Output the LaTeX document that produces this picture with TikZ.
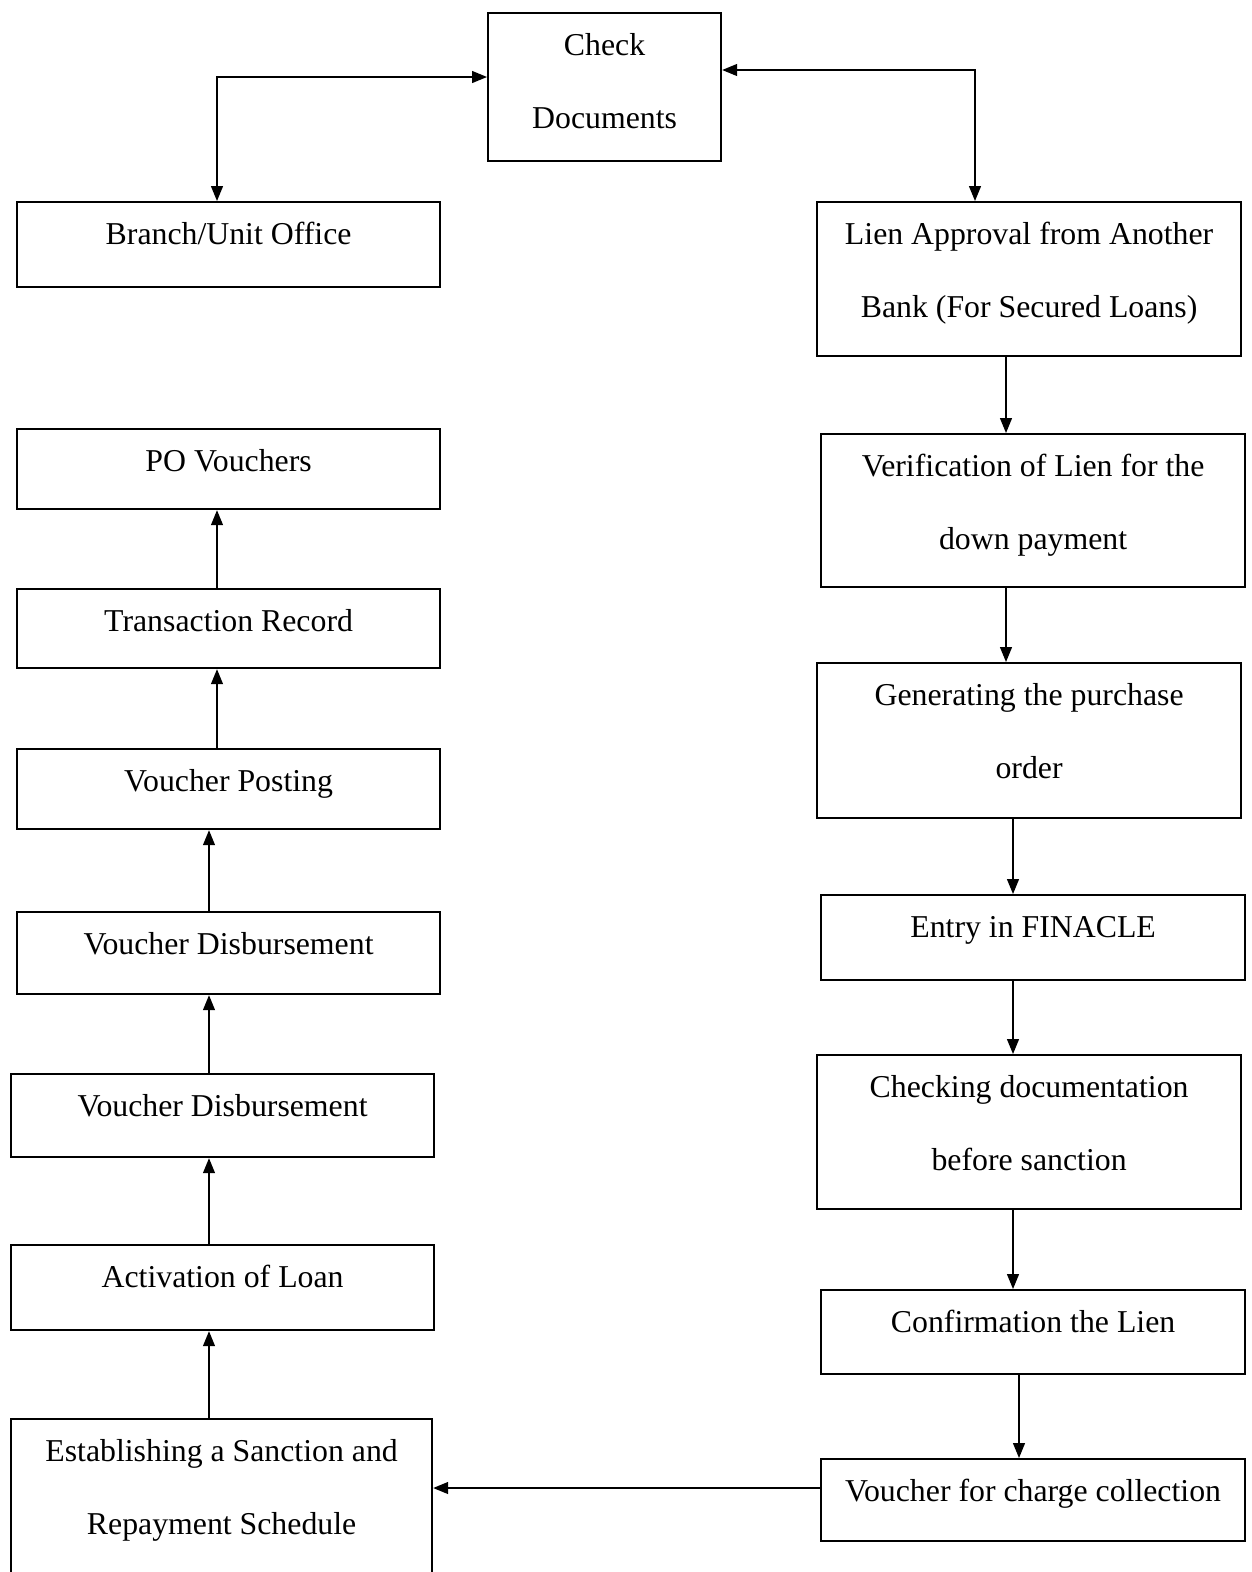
\documentclass[tikz,border=0pt]{standalone}
\usepackage{fontspec}
\setmainfont{Liberation Serif}
\usetikzlibrary{arrows.meta,calc}
\newcommand\ms{\rule{0pt}{24pt}}
\newcommand\mybox[6]{%
  \node[box, minimum width={#4-#2}, minimum height={#5-#3}, anchor=north west] (#1) at (#2,#3) {};
  \node[txt, anchor=north] (#1t) at ($(#1.north)+(0,19)$) {\ms #6};}
\begin{document}
\begin{tikzpicture}[x=1pt,y=-1pt,
  box/.style={draw, line width=2.2pt, inner sep=0pt, rectangle},
  txt/.style={inner sep=0pt, align=center, font=\fontsize{31.8}{73}\selectfont},
  conn/.style={line width=1.3pt, -{Triangle[length=15pt,width=12pt]}},
  biconn/.style={line width=1.3pt, {Triangle[length=15pt,width=12pt]}-{Triangle[length=15pt,width=12pt]}}]
\useasboundingbox (0,0) rectangle (1251,1572);
\mybox{chk}{487}{12}{720}{160}{Check\\Documents}
\mybox{br}{16}{201}{439}{286}{Branch/Unit Office}
\mybox{lien}{816}{201}{1240}{355}{Lien Approval from Another\\Bank (For Secured Loans)}
\mybox{ver}{820}{433}{1244}{586}{Verification of Lien for the\\down payment}
\mybox{gen}{816}{662}{1240}{817}{Generating the purchase\\order}
\mybox{ent}{820}{894}{1244}{979}{Entry in FINACLE}
\mybox{chkd}{816}{1054}{1240}{1208}{Checking documentation\\before sanction}
\mybox{conf}{820}{1289}{1244}{1373}{Confirmation the Lien}
\mybox{vch}{820}{1458}{1244}{1540}{Voucher for charge collection}
\mybox{est}{10}{1418}{431}{1590}{Establishing a Sanction and\\Repayment Schedule}
\mybox{act}{10}{1244}{433}{1329}{Activation of Loan}
\mybox{vdb}{10}{1073}{433}{1156}{Voucher Disbursement}
\mybox{vda}{16}{911}{439}{993}{Voucher Disbursement}
\mybox{vp}{16}{748}{439}{828}{Voucher Posting}
\mybox{tr}{16}{588}{439}{667}{Transaction Record}
\mybox{po}{16}{428}{439}{508}{PO Vouchers}
% helper positions
\coordinate (xl) at (217,77);
\coordinate (xr) at (975,70);
\coordinate (xa) at (1006,0);
\coordinate (xb) at (1013,0);
\coordinate (xc) at (1019,0);
\coordinate (xd) at (209,0);
\coordinate (xe) at (217,0);
\coordinate (yh) at (0,1488);
% connectors
\draw[biconn] (chk.west |- xl) -| (br.north -| xl);
\draw[biconn] (chk.east |- xr) -| (lien.north -| xr);
\draw[conn] (lien.south -| xa) -- (ver.north -| xa);
\draw[conn] (ver.south -| xa) -- (gen.north -| xa);
\draw[conn] (gen.south -| xb) -- (ent.north -| xb);
\draw[conn] (ent.south -| xb) -- (chkd.north -| xb);
\draw[conn] (chkd.south -| xb) -- (conf.north -| xb);
\draw[conn] (conf.south -| xc) -- (vch.north -| xc);
\draw[conn] (vch.west |- yh) -- (est.east |- yh);
\draw[conn] (est.north -| xd) -- (act.south -| xd);
\draw[conn] (act.north -| xd) -- (vdb.south -| xd);
\draw[conn] (vdb.north -| xd) -- (vda.south -| xd);
\draw[conn] (vda.north -| xd) -- (vp.south -| xd);
\draw[conn] (vp.north -| xe) -- (tr.south -| xe);
\draw[conn] (tr.north -| xe) -- (po.south -| xe);
\end{tikzpicture}
\end{document}
